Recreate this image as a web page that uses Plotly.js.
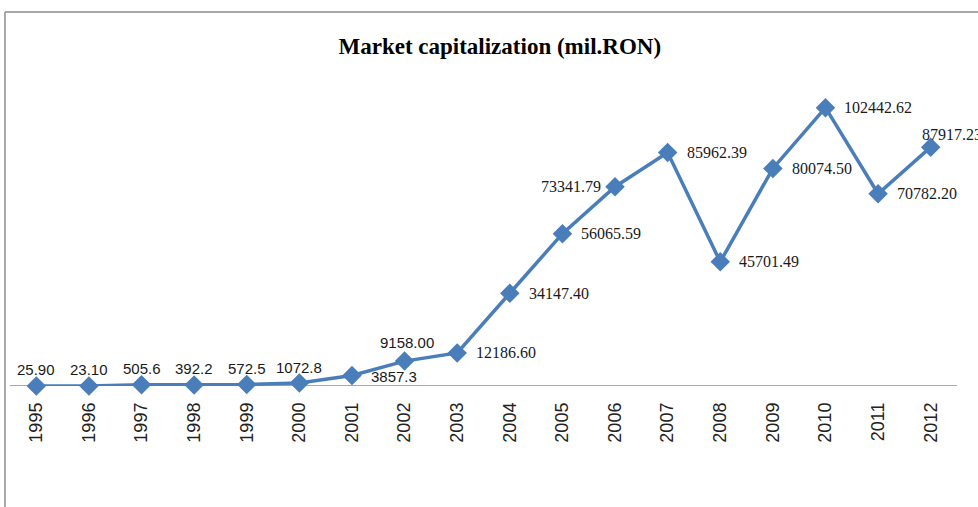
<!DOCTYPE html>
<html>
<head>
<meta charset="utf-8">
<script src="https://cdn.plot.ly/plotly-3.0.1.min.js"></script>
<style>html,body{margin:0;padding:0;background:#fff;}#chart{width:978px;height:507px;}</style>
</head>
<body>
<div id="chart"></div>
<script>
var years = ["1995","1996","1997","1998","1999","2000","2001","2002","2003","2004","2005","2006","2007","2008","2009","2010","2011","2012"];
var values = [25.90, 23.10, 505.6, 392.2, 572.5, 1072.8, 3857.3, 9158.00, 12186.60, 34147.40, 56065.59, 73341.79, 85962.39, 45701.49, 80074.50, 102442.62, 70782.20, 87917.23];
var labels = ["25.90","23.10","505.6","392.2","572.5","1072.8","3857.3","9158.00","12186.60","34147.40","56065.59","73341.79","85962.39","45701.49","80074.50","102442.62","70782.20","87917.23"];
// label placement: "t" = above, "r" = right, "l" = left, "tr" = above, starting slightly left
var labelPos = ["t","t","t","t","t","t","r","t","r","r","r","l","r","r","r","r","r","tr"];

var sans = "Liberation Sans, Arial, sans-serif";
var serif = "Liberation Serif, Times New Roman, serif";

var annotations = years.map(function(yr, i){
  var p = labelPos[i];
  var a = {
    x: i, y: values[i], xref: "x", yref: "y",
    text: labels[i], showarrow: false,
    font: {family: i < 8 ? sans : serif, size: i < 8 ? 15 : 16, color: "#1a1a1a"}
  };
  if (p === "t") { a.xanchor = "center"; a.yanchor = "middle"; a.yshift = (i === 7 ? 19 : 16); a.xshift = (i === 7 ? 2 : 0); }
  else if (p === "r") { a.xanchor = "left"; a.yanchor = "middle"; a.xshift = 17; a.yshift = (i === 6 ? -1 : 0); }
  else if (p === "l") { a.xanchor = "right"; a.yanchor = "middle"; a.xshift = -12; }
  else { a.xanchor = "left"; a.yanchor = "middle"; a.xshift = -11; a.yshift = 13; }
  return a;
});

var trace = {
  x: years,
  y: values,
  type: "scatter",
  mode: "lines+markers",
  line: {color: "#4A7EBB", width: 3.5},
  marker: {symbol: "diamond", size: 15, color: "#4A7EBB"},
  cliponaxis: false,
  hoverinfo: "none"
};

var layout = {
  width: 978,
  height: 507,
  margin: {l: 10, r: 21, t: 60, b: 121},
  paper_bgcolor: "#ffffff",
  plot_bgcolor: "#ffffff",
  showlegend: false,
  title: {
    text: "<b>Market capitalization (mil.RON)</b>",
    font: {family: serif, size: 23, color: "#000"},
    x: 0.511, xref: "container", xanchor: "center",
    y: 0.909, yref: "container", yanchor: "middle"
  },
  xaxis: {
    type: "category",
    range: [-0.5, 17.5],
    showgrid: false,
    zeroline: false,
    showline: false,
    ticks: "",
    tickangle: -90,
    ticklabelstandoff: 12,
    tickfont: {family: sans, size: 18, color: "#222"},
    fixedrange: true
  },
  yaxis: {
    range: [0, 120000],
    visible: false,
    showgrid: false,
    zeroline: false,
    fixedrange: true
  },
  annotations: annotations,
  shapes: [
    {type: "line", xref: "paper", yref: "y", x0: 0, x1: 1, y0: 0, y1: 0, line: {color: "#8c8c8c", width: 1.3}, layer: "below"},
    {type: "line", xref: "paper", yref: "paper", x0: -0.0053, x1: 1.03, y0: 1.147, y1: 1.147, line: {color: "#8c8c8c", width: 1.5}},
    {type: "line", xref: "paper", yref: "paper", x0: -0.0053, x1: -0.0053, y0: 1.147, y1: -0.4, line: {color: "#8c8c8c", width: 1.5}}
  ]
};

Plotly.newPlot("chart", [trace], layout, {displayModeBar: false, staticPlot: true});
</script>
</body>
</html>
